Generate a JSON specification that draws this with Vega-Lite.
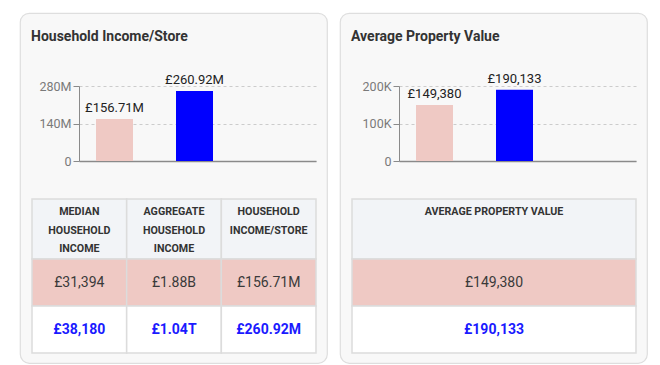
{
  "$schema": "https://vega.github.io/schema/vega-lite/v6.json",
  "background": "#ffffff",
  "padding": {"left": 19, "top": 12, "right": 0, "bottom": 0},
  "spacing": 11,
  "config": {
    "font": "Roboto",
    "title": {"font": "Roboto", "fontSize": 14, "fontWeight": "bold", "color": "#333333", "anchor": "start", "frame": "group", "dx": 11, "offset": -31, "baseline": "alphabetic"}
  },
  "datasets": {
    "incomeBars": [
      {"series": "Selected Store", "value": 156710000, "label": "£156.71M"},
      {"series": "Benchmark", "value": 260920000, "label": "£260.92M"}
    ],
    "incomeHeader": [
      {"column": "Median Household Income", "section": "header", "label": "MEDIAN\nHOUSEHOLD\nINCOME"},
      {"column": "Aggregate Household Income", "section": "header", "label": "AGGREGATE\nHOUSEHOLD\nINCOME"},
      {"column": "Household Income/Store", "section": "header", "label": "HOUSEHOLD\nINCOME/STORE"}
    ],
    "incomeBody": [
      {"column": "Median Household Income", "series": "Selected Store", "value": "£31,394"},
      {"column": "Aggregate Household Income", "series": "Selected Store", "value": "£1.88B"},
      {"column": "Household Income/Store", "series": "Selected Store", "value": "£156.71M"},
      {"column": "Median Household Income", "series": "Benchmark", "value": "£38,180"},
      {"column": "Aggregate Household Income", "series": "Benchmark", "value": "£1.04T"},
      {"column": "Household Income/Store", "series": "Benchmark", "value": "£260.92M"}
    ],
    "propertyBars": [
      {"series": "Selected Store", "value": 149380, "label": "£149,380"},
      {"series": "Benchmark", "value": 190133, "label": "£190,133"}
    ],
    "propertyHeader": [
      {"column": "Average Property Value", "section": "header", "label": "AVERAGE PROPERTY VALUE"}
    ],
    "propertyBody": [
      {"column": "Average Property Value", "series": "Selected Store", "value": "£149,380"},
      {"column": "Average Property Value", "series": "Benchmark", "value": "£190,133"}
    ]
  },
  "hconcat": [
    {
      "width": 307,
      "height": 350,
      "title": {"text": "Household Income/Store"},
      "view": {"fill": "#f8f8f8", "stroke": "#dedede", "strokeWidth": 1.2, "cornerRadius": 9},
      "resolve": {"scale": {"x": "independent", "y": "independent"}, "axis": {"x": "independent", "y": "independent"}},
      "layer": [
        {
          "data": {"name": "incomeBars"},
          "encoding": {
            "x": {"field": "series", "type": "nominal", "sort": null,
              "scale": {"domain": ["Selected Store", "Benchmark"], "range": [59, 296], "paddingInner": 0.5375, "paddingOuter": 0.75, "align": 0.1417},
              "axis": {"orient": "bottom", "offset": -202, "labels": false, "ticks": false, "title": null, "grid": false, "domainColor": "#8a8a8a", "domainWidth": 1.5}},
            "y": {"field": "value", "type": "quantitative",
              "scale": {"domain": [0, 280000000], "range": [148, 73], "nice": false, "zero": false},
              "axis": {"values": [0, 140000000, 280000000], "offset": -59, "title": null, "labelExpr": "replace(format(datum.value, '~s'), 'k', 'K')", "labelFontSize": 12.5, "labelColor": "#7a7a7a", "labelPadding": 2, "tickSize": 6, "tickColor": "#8a8a8a", "domainColor": "#8a8a8a", "grid": true, "gridDash": [3, 3], "gridColor": "#cccccc"}}
          },
          "layer": [
            {"mark": {"type": "bar"},
              "encoding": {"color": {"field": "series", "type": "nominal", "scale": {"domain": ["Selected Store", "Benchmark"], "range": ["#efc9c4", "#0000ff"]}, "legend": null}}},
            {"mark": {"type": "text", "baseline": "alphabetic", "dy": -7, "fontSize": 13, "color": "#222222"},
              "encoding": {"text": {"field": "label"}}}
          ]
        },
        {
          "data": {"name": "incomeHeader"},
          "encoding": {
            "x": {"field": "column", "type": "nominal", "sort": null,
              "scale": {"domain": ["Median Household Income", "Aggregate Household Income", "Household Income/Store"], "range": [12, 296], "paddingInner": 0, "paddingOuter": 0}, "axis": null},
            "y": {"field": "section", "type": "nominal",
              "scale": {"domain": ["header"], "range": [186, 246], "paddingInner": 0, "paddingOuter": 0}, "axis": null}
          },
          "layer": [
            {"mark": {"type": "rect", "fill": "#f2f4f7", "stroke": "#dcdcdc", "strokeWidth": 1.5}},
            {"mark": {"type": "text", "baseline": "top", "lineBreak": "\n", "lineHeight": 18.5, "fontSize": 10.7, "fontWeight": "bold", "color": "#333333", "dy": 8},
              "encoding": {
                "y": {"field": "section", "type": "nominal", "bandPosition": 0,
                  "scale": {"domain": ["header"], "range": [186, 246], "paddingInner": 0, "paddingOuter": 0}, "axis": null},
                "text": {"field": "label"}}}
          ]
        },
        {
          "data": {"name": "incomeBody"},
          "encoding": {
            "x": {"field": "column", "type": "nominal", "sort": null,
              "scale": {"domain": ["Median Household Income", "Aggregate Household Income", "Household Income/Store"], "range": [12, 296], "paddingInner": 0, "paddingOuter": 0}, "axis": null},
            "y": {"field": "series", "type": "nominal", "sort": null,
              "scale": {"domain": ["Selected Store", "Benchmark"], "range": [246, 340], "paddingInner": 0, "paddingOuter": 0}, "axis": null}
          },
          "layer": [
            {"mark": {"type": "rect", "stroke": "#dcdcdc", "strokeWidth": 1.5},
              "encoding": {"fill": {"condition": {"test": "datum.series === 'Selected Store'", "value": "#efc9c4"}, "value": "#ffffff"}}},
            {"transform": [{"filter": "datum.series === 'Selected Store'"}],
              "mark": {"type": "text", "fontSize": 14, "color": "#3a3a3a"},
              "encoding": {"text": {"field": "value"}}},
            {"transform": [{"filter": "datum.series === 'Benchmark'"}],
              "mark": {"type": "text", "fontSize": 14, "fontWeight": "bold", "color": "#1a1aff"},
              "encoding": {"text": {"field": "value"}}}
          ]
        }
      ]
    },
    {
      "width": 307,
      "height": 350,
      "title": {"text": "Average Property Value"},
      "view": {"fill": "#f8f8f8", "stroke": "#dedede", "strokeWidth": 1.2, "cornerRadius": 9},
      "resolve": {"scale": {"x": "independent", "y": "independent"}, "axis": {"x": "independent", "y": "independent"}},
      "layer": [
        {
          "data": {"name": "propertyBars"},
          "encoding": {
            "x": {"field": "series", "type": "nominal", "sort": null,
              "scale": {"domain": ["Selected Store", "Benchmark"], "range": [59, 296], "paddingInner": 0.5375, "paddingOuter": 0.75, "align": 0.1417},
              "axis": {"orient": "bottom", "offset": -202, "labels": false, "ticks": false, "title": null, "grid": false, "domainColor": "#8a8a8a", "domainWidth": 1.5}},
            "y": {"field": "value", "type": "quantitative",
              "scale": {"domain": [0, 200000], "range": [148, 73], "nice": false, "zero": false},
              "axis": {"values": [0, 100000, 200000], "offset": -59, "title": null, "labelExpr": "replace(format(datum.value, '~s'), 'k', 'K')", "labelFontSize": 12.5, "labelColor": "#7a7a7a", "labelPadding": 2, "tickSize": 6, "tickColor": "#8a8a8a", "domainColor": "#8a8a8a", "grid": true, "gridDash": [3, 3], "gridColor": "#cccccc"}}
          },
          "layer": [
            {"mark": {"type": "bar"},
              "encoding": {"color": {"field": "series", "type": "nominal", "scale": {"domain": ["Selected Store", "Benchmark"], "range": ["#efc9c4", "#0000ff"]}, "legend": null}}},
            {"mark": {"type": "text", "baseline": "alphabetic", "dy": -7, "fontSize": 13, "color": "#222222"},
              "encoding": {"text": {"field": "label"}}}
          ]
        },
        {
          "data": {"name": "propertyHeader"},
          "encoding": {
            "x": {"field": "column", "type": "nominal", "sort": null,
              "scale": {"domain": ["Average Property Value"], "range": [12, 296], "paddingInner": 0, "paddingOuter": 0}, "axis": null},
            "y": {"field": "section", "type": "nominal",
              "scale": {"domain": ["header"], "range": [186, 246], "paddingInner": 0, "paddingOuter": 0}, "axis": null}
          },
          "layer": [
            {"mark": {"type": "rect", "fill": "#f2f4f7", "stroke": "#dcdcdc", "strokeWidth": 1.5}},
            {"mark": {"type": "text", "baseline": "top", "lineBreak": "\n", "lineHeight": 18.5, "fontSize": 10.7, "fontWeight": "bold", "color": "#333333", "dy": 8},
              "encoding": {
                "y": {"field": "section", "type": "nominal", "bandPosition": 0,
                  "scale": {"domain": ["header"], "range": [186, 246], "paddingInner": 0, "paddingOuter": 0}, "axis": null},
                "text": {"field": "label"}}}
          ]
        },
        {
          "data": {"name": "propertyBody"},
          "encoding": {
            "x": {"field": "column", "type": "nominal", "sort": null,
              "scale": {"domain": ["Average Property Value"], "range": [12, 296], "paddingInner": 0, "paddingOuter": 0}, "axis": null},
            "y": {"field": "series", "type": "nominal", "sort": null,
              "scale": {"domain": ["Selected Store", "Benchmark"], "range": [246, 340], "paddingInner": 0, "paddingOuter": 0}, "axis": null}
          },
          "layer": [
            {"mark": {"type": "rect", "stroke": "#dcdcdc", "strokeWidth": 1.5},
              "encoding": {"fill": {"condition": {"test": "datum.series === 'Selected Store'", "value": "#efc9c4"}, "value": "#ffffff"}}},
            {"transform": [{"filter": "datum.series === 'Selected Store'"}],
              "mark": {"type": "text", "fontSize": 14, "color": "#3a3a3a"},
              "encoding": {"text": {"field": "value"}}},
            {"transform": [{"filter": "datum.series === 'Benchmark'"}],
              "mark": {"type": "text", "fontSize": 14, "fontWeight": "bold", "color": "#1a1aff"},
              "encoding": {"text": {"field": "value"}}}
          ]
        }
      ]
    }
  ]
}
